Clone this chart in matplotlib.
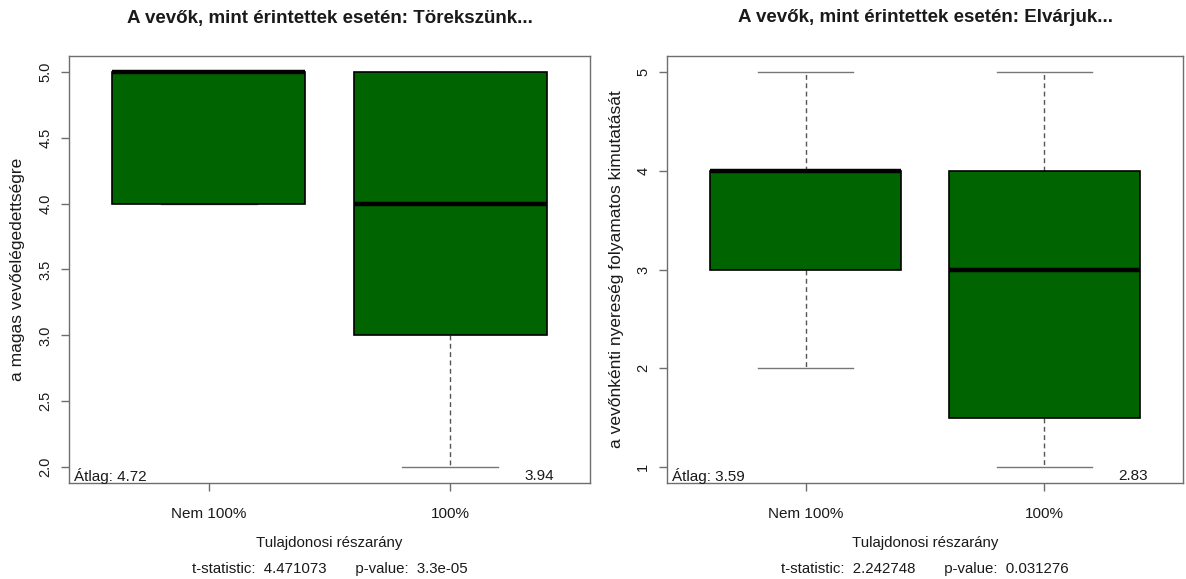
import matplotlib
matplotlib.use("Agg")
import matplotlib.pyplot as plt

plt.rcParams['font.family'] = ['Liberation Sans', 'DejaVu Sans']

# Group labels shared by both panels
groups = ["Nem 100%", "100%"]

# Panel 1: "Törekszünk..." – five-number summaries per group
p1_whislo = [4.0, 2.0]
p1_q1 = [4.0, 3.0]
p1_med = [5.0, 4.0]
p1_q3 = [5.0, 5.0]
p1_whishi = [5.0, 5.0]
p1_means = [4.72, 3.94]
p1_yticks = [2.0, 2.5, 3.0, 3.5, 4.0, 4.5, 5.0]
p1_ytick_labels = ["2.0", "2.5", "3.0", "3.5", "4.0", "4.5", "5.0"]
p1_title = "A vevők, mint érintettek esetén: Törekszünk..."
p1_ylabel = "a magas vevőelégedettségre"
p1_stat = "t-statistic:  4.471073       p-value:  3.3e-05"

# Panel 2: "Elvárjuk..."
p2_whislo = [2.0, 1.0]
p2_q1 = [3.0, 1.5]
p2_med = [4.0, 3.0]
p2_q3 = [4.0, 4.0]
p2_whishi = [5.0, 5.0]
p2_means = [3.59, 2.83]
p2_yticks = [1, 2, 3, 4, 5]
p2_ytick_labels = ["1", "2", "3", "4", "5"]
p2_title = "A vevők, mint érintettek esetén: Elvárjuk..."
p2_ylabel = "a vevőnkénti nyereség folyamatos kimutatását"
p2_stat = "t-statistic:  2.242748       p-value:  0.031276"

xlabel = "Tulajdonosi részarány"
mean_prefix = "Átlag: "

BOX_GREEN = "#006400"
AXIS_GRAY = "#6e6e6e"
TEXT_COLOR = "#1a1a1a"
W, H = 1186, 579

fig = plt.figure(figsize=(W / 100, H / 100), dpi=100)


def panel(rect, whislo, q1, med, q3, whishi, means, yticks, yticklabels,
          title, ylabel, stat, ylabel_x):
    ax = fig.add_axes(rect)
    stats = []
    for i, name in enumerate(groups):
        stats.append(dict(label=name, whislo=whislo[i], q1=q1[i], med=med[i],
                          q3=q3[i], whishi=whishi[i], fliers=[]))
    # whiskers and staples first, box and median on top of them
    ax.bxp(stats, positions=[1, 2], widths=0.8, patch_artist=True,
           showfliers=False, capwidths=0.4,
           boxprops=dict(facecolor=BOX_GREEN, edgecolor="black",
                         linewidth=1.2, zorder=3),
           medianprops=dict(color="black", linewidth=3.2,
                            solid_capstyle="butt", zorder=4),
           whiskerprops=dict(color="#555555", linewidth=1.0,
                             linestyle=(0, (3.5, 2.5)), zorder=1),
           capprops=dict(color="#777777", linewidth=1.0, zorder=1))

    lo, hi = min(yticks), max(yticks)
    pad = (hi - lo) * 0.04
    ax.set_ylim(lo - pad, hi + pad)
    ax.set_xlim(0.42, 2.58)
    ax.set_yticks(yticks)
    ax.set_yticklabels(yticklabels, rotation=90, va="center")
    ax.set_xticks([1, 2])
    ax.set_xticklabels(groups)
    ax.tick_params(axis="x", length=6, width=1, color=AXIS_GRAY, pad=11,
                   labelsize=11, labelcolor=TEXT_COLOR)
    ax.tick_params(axis="y", length=6, width=1, color=AXIS_GRAY, pad=6,
                   labelsize=10.5, labelcolor=TEXT_COLOR)
    for s in ax.spines.values():
        s.set_color(AXIS_GRAY)
        s.set_linewidth(1.0)

    # Group means written along the bottom of the plot region
    ybot = lo - pad * 0.55
    ax.text(0.44, ybot, f"{mean_prefix}{means[0]:.2f}", ha="left", va="center",
            fontsize=11, color=TEXT_COLOR)
    ax.text(2.37, ybot, f"{means[1]:.2f}", ha="center", va="center",
            fontsize=11, color=TEXT_COLOR)

    l, b, w, h = rect
    cx = l + w / 2
    fig.text(cx, 1 - 18 / H, title, ha="center", va="center",
             fontsize=13.5, fontweight="bold", color=TEXT_COLOR)
    fig.text(cx, 1 - 543 / H, xlabel, ha="center", va="center",
             fontsize=10.8, color=TEXT_COLOR)
    fig.text(cx, 1 - 569 / H, stat, ha="center", va="center",
             fontsize=10.8, color=TEXT_COLOR)
    fig.text(ylabel_x / W, b + h / 2, ylabel, rotation=90, ha="center",
             va="center", fontsize=12.5, color=TEXT_COLOR)
    return ax


bottom = 1 - 483 / H
height = (483 - 56) / H
panel([69 / W, bottom, 521 / W, height], p1_whislo, p1_q1, p1_med, p1_q3,
      p1_whishi, p1_means, p1_yticks, p1_ytick_labels, p1_title, p1_ylabel,
      p1_stat, 18)
panel([667 / W, bottom, 516 / W, height], p2_whislo, p2_q1, p2_med, p2_q3,
      p2_whishi, p2_means, p2_yticks, p2_ytick_labels, p2_title, p2_ylabel,
      p2_stat, 617)

fig.savefig("out.png", dpi=100, facecolor="white")
